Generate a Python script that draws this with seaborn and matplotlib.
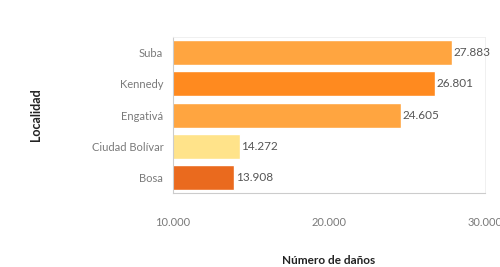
import matplotlib
matplotlib.use("Agg")
import matplotlib.pyplot as plt
import seaborn as sns
import pandas as pd
from matplotlib.ticker import FuncFormatter

localidades = ["Suba", "Kennedy", "Engativá", "Ciudad Bolívar", "Bosa"]
danos = [27883, 26801, 24605, 14272, 13908]
colores = ["#FFA540", "#FF8A1F", "#FFA540", "#FFE38A", "#EA6A1E"]

df = pd.DataFrame({"Localidad": localidades, "Danos": danos})

sns.set_theme(style="white")
plt.rcParams["font.family"] = ["Lato", "DejaVu Sans"]

fig = plt.figure(figsize=(5, 2.67), dpi=100)
ax = fig.add_axes([0.346, 0.277, 0.624, 0.584])

sns.barplot(data=df, x="Danos", y="Localidad", hue="Localidad", palette=colores,
            legend=False, width=0.8, saturation=1, ax=ax, orient="h")

for i, v in enumerate(danos):
    ax.text(v + 120, i, f"{v:,}".replace(",", "."), va="center", ha="left",
            fontsize=8.5, color="#555555")

ax.set_xlim(10000, 30000)
ax.set_xticks([10000, 20000, 30000])
ax.xaxis.set_major_formatter(FuncFormatter(lambda x, p: f"{int(x):,}".replace(",", ".")))
ax.tick_params(axis="both", labelsize=8, colors="#888888", length=3, width=0.6)
ax.tick_params(axis="x", pad=14)
ax.tick_params(axis="y", pad=4)
for lab in ax.get_xticklabels() + ax.get_yticklabels():
    lab.set_color("#7a7a7a")

for s in ["top", "right"]:
    ax.spines[s].set_color("#eeeeee")
    ax.spines[s].set_linewidth(0.6)
for s in ["left", "bottom"]:
    ax.spines[s].set_color("#cccccc")
    ax.spines[s].set_linewidth(0.8)

ax.set_xlabel("Número de daños", fontsize=8.5, fontweight="bold", color="#222222", labelpad=20)
ax.set_ylabel("Localidad", fontsize=9, fontweight="bold", color="#222222", labelpad=36)

fig.savefig("out.png", dpi=100)
